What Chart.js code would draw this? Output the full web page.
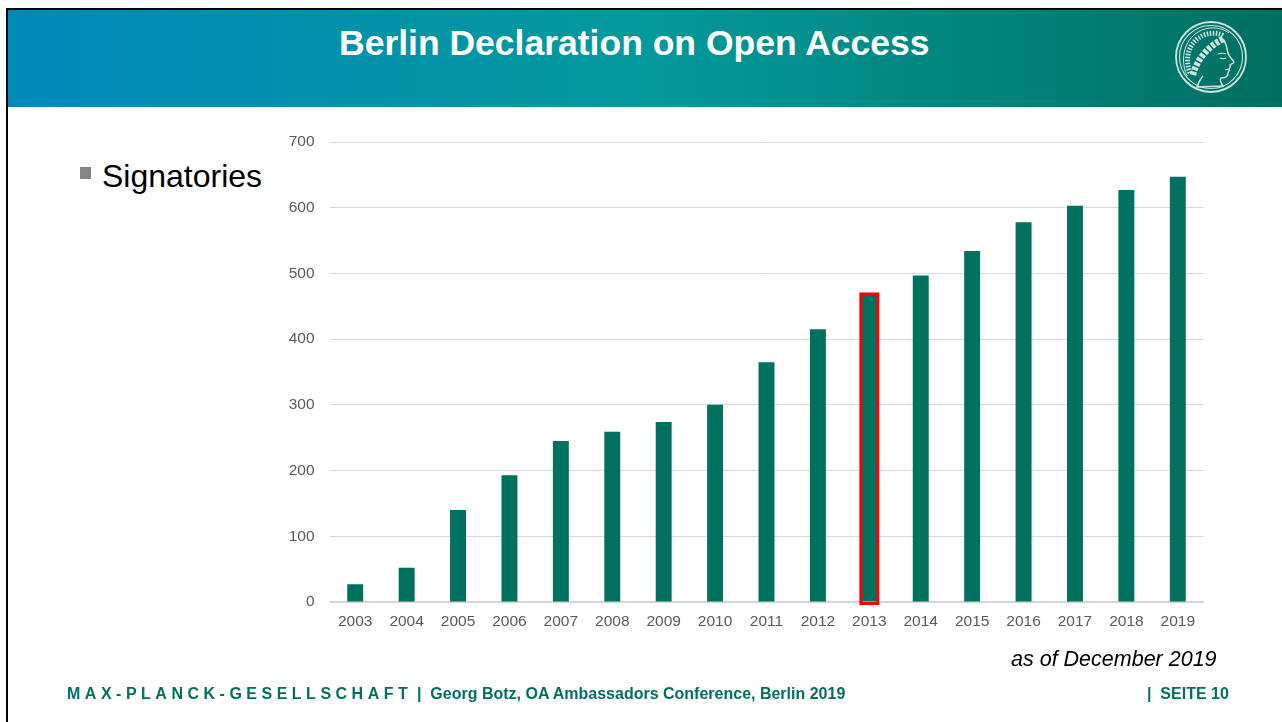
<!DOCTYPE html>
<html>
<head>
<meta charset="utf-8">
<title>Berlin Declaration on Open Access</title>
<script src="https://cdn.jsdelivr.net/npm/chart.js@4"></script>
<style>
    html, body { margin: 0; padding: 0; background: #fff; }
    body { position: relative; width: 1282px; height: 722px; overflow: hidden; font-family: "Liberation Sans", Arial, sans-serif; }
    #frame { position: absolute; left: 6px; top: 8px; right: -4px; bottom: -4px; border: 2px solid #000; box-sizing: border-box; }
    #banner { position: absolute; left: 8px; top: 10px; width: 1274px; height: 97px;
        background: linear-gradient(90deg, #0088bb 0%, #049a9c 50%, #006f5f 100%); }
    #title { position: absolute; left: 339px; top: 22px; color: #fff; font-size: 35.5px; font-weight: bold; line-height: 42px; white-space: nowrap; }
    #logo { position: absolute; left: 1174px; top: 20px; }
    #bullet { position: absolute; left: 80px; top: 167px; width: 11px; height: 12px; background: #858585; }
    #topic { position: absolute; left: 102px; top: 157px; font-size: 32px; line-height: 38px; color: #000; }
    #chart-wrap { position: absolute; left: 0; top: 0; width: 1282px; height: 722px; }
    #asof { position: absolute; left: 1011px; top: 646px; font-size: 21.5px; font-style: italic; line-height: 26px; color: #000; white-space: nowrap; }
    .foot { position: absolute; top: 685px; color: #00705f; font-size: 16px; font-weight: bold; line-height: 18px; white-space: nowrap; }
    #foot-org { left: 67px; letter-spacing: 4.5px; }
    #foot-talk { left: 417px; }
    #foot-page { left: 1147px; }
</style>
</head>
<body>
<div id="banner"></div>
<div id="frame"></div>
<div id="title">Berlin Declaration on Open Access</div>
<svg id="logo" width="74" height="74" viewBox="0 0 74 74" fill="none" stroke="#cfe5e0">
    <circle cx="37" cy="37" r="35" stroke-width="1.8"/>
    <circle cx="37" cy="37" r="31.5" stroke-width="1.1"/>
    <!-- helmet band and wreath -->
    <path d="M13 56 C5 38 11 17 28 10 C38 6 48 8 55 13" stroke-width="1"/>
    <path d="M16 53 C10 38 15 21 30 15 C38 12 45 13 50 16" stroke-width="5" stroke-dasharray="1.5 1.5"/>
    <path d="M19 55 C22 41 33 27 49 19" stroke-width="6.5" stroke-dasharray="3.5 1.5"/>
    <!-- profile -->
    <path d="M49 19 C53 24 53 30 54 33 C55 37 59 40 60 42 C59 44 57 44 56 45 C57 47 56 48 55 49 C56 51 54 52 54 53 C54 57 51 58 47 58 C45 60 47 63 49 66 L23 67 C25 62 26 59 29 56" stroke-width="1.5"/>
    <path d="M44 34 C47 33 50 33 52 34 M46 38 C48 39 50 39 52 38 M51 50 L55 49" stroke-width="1.1"/>
</svg>
<div id="bullet"></div>
<div id="topic">Signatories</div>
<div id="chart-wrap"><canvas id="signatories_chart" width="1282" height="722"></canvas></div>
<div id="asof">as of December 2019</div>
<div class="foot" id="foot-org">MAX-PLANCK-GESELLSCHAFT</div>
<div class="foot" id="foot-talk">|&nbsp;&nbsp;Georg Botz, OA Ambassadors Conference, Berlin 2019</div>
<div class="foot" id="foot-page">|&nbsp;&nbsp;SEITE 10</div>
<script>
const years = ["2003", "2004", "2005", "2006", "2007", "2008", "2009", "2010", "2011", "2012", "2013", "2014", "2015", "2016", "2017", "2018", "2019"];
const signatories = [27, 52, 140, 193, 245, 259, 274, 300, 365, 415, 468, 497, 534, 578, 603, 627, 647];
const highlightYear = "2013";

// Red box round one year, placed from the chart's own scales
const highlightPlugin = {
    id: "highlightBar",
    afterDatasetsDraw(chart) {
        const index = years.indexOf(highlightYear);
        const bar = chart.getDatasetMeta(0).data[index];
        const zero = chart.scales.y.getPixelForValue(0);
        const ctx = chart.ctx;
        ctx.save();
        ctx.strokeStyle = "#ff0000";
        ctx.lineWidth = 3;
        ctx.strokeRect(bar.x - bar.width / 2 - 0.5, bar.y - 0.5, bar.width + 1, zero - bar.y + 2);
        ctx.restore();
    },
};

const ctx = document.getElementById("signatories_chart").getContext("2d");
new Chart(ctx, {
    type: "bar",
    data: {
        labels: years,
        datasets: [
            {
                label: "Signatories",
                data: signatories,
                backgroundColor: "#00705f",
                barPercentage: 0.31,
                categoryPercentage: 1,
            },
        ],
    },
    options: {
        responsive: false,
        animation: false,
        layout: {
            padding: {left: 269.5, right: 78.5, top: 142, bottom: 92},
        },
        scales: {
            x: {
                afterFit(scale) {
                    scale.height = 28;
                },
                grid: {display: false, drawTicks: false},
                border: {color: "#d4d4d4", width: 1.5},
                ticks: {
                    color: "#595959",
                    font: {family: "Liberation Sans", size: 15.5},
                    maxRotation: 0,
                    autoSkip: false,
                    padding: 10,
                },
            },
            y: {
                min: 0,
                max: 700,
                afterFit(scale) {
                    scale.width = 60;
                },
                grid: {color: "#d9d9d9", lineWidth: 1, drawTicks: false},
                border: {display: false},
                ticks: {
                    stepSize: 100,
                    color: "#595959",
                    font: {family: "Liberation Sans", size: 15.5},
                    padding: 15,
                },
            },
        },
        plugins: {
            legend: {display: false},
            tooltip: {enabled: false},
        },
    },
    plugins: [highlightPlugin],
});
</script>
</body>
</html>
